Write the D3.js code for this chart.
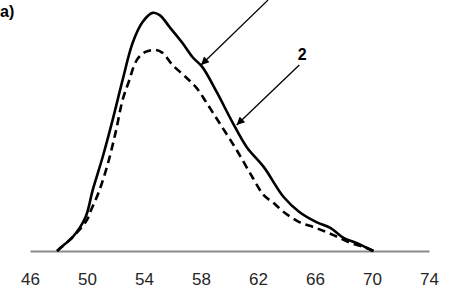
<!DOCTYPE html>
<html>
<head>
<meta charset="utf-8">
<script src="https://cdn.jsdelivr.net/npm/d3@7/dist/d3.min.js"></script>
<style>
html,body{margin:0;padding:0;background:#fff;}
svg{display:block;}
</style>
</head>
<body>
<svg id="chart" width="451" height="295"></svg>
<script>
const xTicks = [46, 50, 54, 58, 62, 66, 70, 74];

const curve1X = [47.9, 48.1, 49.0, 49.9, 50.4, 51.1, 51.8, 52.5, 53.2, 53.9, 54.6, 55.1, 55.8, 56.7, 57.4, 58.1, 59.1, 60.2, 61.2, 62.4, 63.8, 64.9, 66.1, 67.1, 68.0, 68.9, 70.1];
const curve1Y = [0, 1.2, 5.8, 14.1, 25.3, 39.0, 54.4, 71.0, 86.3, 95.0, 98.8, 97.9, 92.9, 86.3, 80.5, 76.3, 66.0, 53.5, 43.2, 34.9, 22.4, 16.2, 12.0, 9.5, 5.4, 3.3, 0];

const curve2X = [47.9, 49.0, 50.0, 50.2, 50.8, 51.4, 52.0, 52.5, 52.9, 53.5, 54.1, 54.8, 55.3, 56.0, 57.0, 57.7, 58.4, 59.3, 60.5, 61.6, 62.4, 63.1, 63.8, 64.9, 66.1, 67.3, 68.5, 69.4, 70.1];
const curve2Y = [0, 5.8, 12.9, 15.8, 24.1, 34.9, 49.0, 62.7, 69.7, 79.3, 82.6, 83.4, 82.2, 77.2, 71.8, 67.6, 61.4, 53.1, 41.9, 30.7, 23.2, 19.9, 16.2, 12.0, 9.5, 6.6, 3.3, 1.7, 0];

// arrows: [fromX, fromY, toX, toY] in data units
const arrow1 = [62.7, 104.1, 58.0, 77.2];
const arrow2 = [64.9, 77.2, 60.5, 52.3];
const label2 = {text: "2", x: 65.1, y: 79.3};

const svg = d3.select("#chart");
const x = d3.scaleLinear().domain([46, 74]).range([30, 429]);
const y = d3.scaleLinear().domain([0, 100]).range([251, 10]);

svg.append("defs").append("marker")
  .attr("id", "ah").attr("viewBox", "0 0 10 10")
  .attr("refX", 10).attr("refY", 5)
  .attr("markerWidth", 10).attr("markerHeight", 8)
  .attr("markerUnits", "userSpaceOnUse")
  .attr("orient", "auto")
  .append("path").attr("d", "M0,0L10,5L0,10Z").attr("fill", "#000");

// x axis
const ax = svg.append("g").attr("transform", `translate(0,${y(0)})`)
  .call(d3.axisBottom(x).tickValues(xTicks).tickSize(0).tickSizeOuter(0).tickPadding(22));
ax.select(".domain").attr("stroke", "#8a8a8a").attr("stroke-width", 2);
ax.selectAll("text").attr("font-family", "Liberation Sans, Arial, sans-serif")
  .attr("font-size", 17).attr("fill", "#262626");

const line = d3.line().x(d => x(d[0])).y(d => y(d[1])).curve(d3.curveCatmullRom.alpha(0.5));

const d1 = curve1X.map((v, i) => [v, curve1Y[i]]);
const d2 = curve2X.map((v, i) => [v, curve2Y[i]]);

svg.append("path").attr("d", line(d2)).attr("fill", "none")
  .attr("stroke", "#000").attr("stroke-width", 2.6).attr("stroke-dasharray", "8,5");
svg.append("path").attr("d", line(d1)).attr("fill", "none")
  .attr("stroke", "#000").attr("stroke-width", 2.6);

[arrow1, arrow2].forEach(a => {
  svg.append("line")
    .attr("x1", x(a[0])).attr("y1", y(a[1]))
    .attr("x2", x(a[2])).attr("y2", y(a[3]))
    .attr("stroke", "#000").attr("stroke-width", 1.3)
    .attr("marker-end", "url(#ah)");
});

svg.append("text").attr("x", x(label2.x)).attr("y", y(label2.y))
  .attr("text-anchor", "middle")
  .attr("font-family", "Liberation Sans, Arial, sans-serif")
  .attr("font-weight", "bold").attr("font-size", 16).text(label2.text);

svg.append("text").attr("x", 0).attr("y", 17)
  .attr("font-family", "Liberation Sans, Arial, sans-serif")
  .attr("font-weight", "bold").attr("font-size", 16).text("a)");
</script>
</body>
</html>
